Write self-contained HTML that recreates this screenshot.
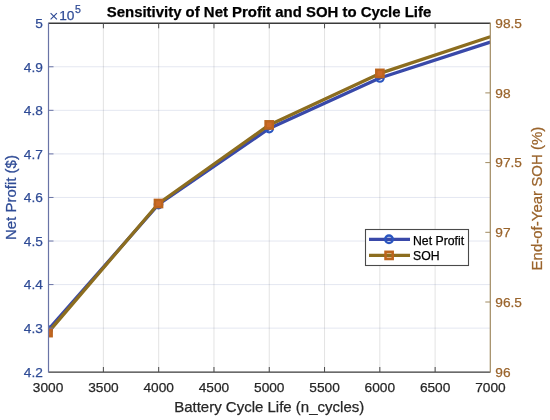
<!DOCTYPE html>
<html><head><meta charset="utf-8"><style>
html,body{margin:0;padding:0;background:#fff;width:550px;height:420px;overflow:hidden}
svg{position:absolute;left:0;top:0;will-change:transform}
svg text{font-family:"Liberation Sans", sans-serif}
</style></head><body>
<svg width="550" height="420" viewBox="0 0 550 420">
<defs><clipPath id="ax"><rect x="48.5" y="23.3" width="441.8" height="348.7"/></clipPath></defs>
<line x1="103.39" y1="23.3" x2="103.39" y2="372.0" stroke="#262626" stroke-opacity="0.13" stroke-width="1"/>
<line x1="158.68" y1="23.3" x2="158.68" y2="372.0" stroke="#262626" stroke-opacity="0.13" stroke-width="1"/>
<line x1="213.97" y1="23.3" x2="213.97" y2="372.0" stroke="#262626" stroke-opacity="0.13" stroke-width="1"/>
<line x1="269.26" y1="23.3" x2="269.26" y2="372.0" stroke="#262626" stroke-opacity="0.13" stroke-width="1"/>
<line x1="324.55" y1="23.3" x2="324.55" y2="372.0" stroke="#262626" stroke-opacity="0.13" stroke-width="1"/>
<line x1="379.84" y1="23.3" x2="379.84" y2="372.0" stroke="#262626" stroke-opacity="0.13" stroke-width="1"/>
<line x1="435.13" y1="23.3" x2="435.13" y2="372.0" stroke="#262626" stroke-opacity="0.13" stroke-width="1"/>
<line x1="48.5" y1="328.14" x2="490.3" y2="328.14" stroke="#2e4791" stroke-opacity="0.13" stroke-width="1"/>
<line x1="48.5" y1="284.58" x2="490.3" y2="284.58" stroke="#2e4791" stroke-opacity="0.13" stroke-width="1"/>
<line x1="48.5" y1="241.02" x2="490.3" y2="241.02" stroke="#2e4791" stroke-opacity="0.13" stroke-width="1"/>
<line x1="48.5" y1="197.46" x2="490.3" y2="197.46" stroke="#2e4791" stroke-opacity="0.13" stroke-width="1"/>
<line x1="48.5" y1="153.90" x2="490.3" y2="153.90" stroke="#2e4791" stroke-opacity="0.13" stroke-width="1"/>
<line x1="48.5" y1="110.34" x2="490.3" y2="110.34" stroke="#2e4791" stroke-opacity="0.13" stroke-width="1"/>
<line x1="48.5" y1="66.78" x2="490.3" y2="66.78" stroke="#2e4791" stroke-opacity="0.13" stroke-width="1"/>
<polyline points="48.05,330.00 158.50,204.50 269.20,128.50 379.90,78.00 490.30,42.10" fill="none" stroke="#3949a9" stroke-width="3.3" stroke-linejoin="round" clip-path="url(#ax)"/>
<circle cx="48.05" cy="330.00" r="3.8" fill="none" stroke="#2a55c0" stroke-width="2.15" clip-path="url(#ax)"/>
<circle cx="158.50" cy="204.50" r="3.8" fill="none" stroke="#2a55c0" stroke-width="2.15" clip-path="url(#ax)"/>
<circle cx="269.20" cy="128.50" r="3.8" fill="none" stroke="#2a55c0" stroke-width="2.15" clip-path="url(#ax)"/>
<circle cx="379.90" cy="78.00" r="3.8" fill="none" stroke="#2a55c0" stroke-width="2.15" clip-path="url(#ax)"/>
<polyline points="48.05,332.60 158.50,203.50 269.20,124.90 379.90,73.40 490.30,36.80" fill="none" stroke="#8c6d1f" stroke-width="3.3" stroke-linejoin="round" clip-path="url(#ax)"/>
<rect x="44.45" y="329.00" width="7.2" height="7.2" fill="#cc6a28" stroke="#bc641e" stroke-width="2.5" clip-path="url(#ax)"/>
<rect x="154.90" y="199.90" width="7.2" height="7.2" fill="#cc6a28" stroke="#bc641e" stroke-width="2.5" clip-path="url(#ax)"/>
<rect x="265.60" y="121.30" width="7.2" height="7.2" fill="#cc6a28" stroke="#bc641e" stroke-width="2.5" clip-path="url(#ax)"/>
<rect x="376.30" y="69.80" width="7.2" height="7.2" fill="#cc6a28" stroke="#bc641e" stroke-width="2.5" clip-path="url(#ax)"/>
<line x1="48.5" y1="372.1" x2="490.3" y2="372.1" stroke="#3a3a3a" stroke-width="1.4"/>
<line x1="48.5" y1="23.2" x2="490.3" y2="23.2" stroke="#3a3a3a" stroke-width="1.4"/>
<line x1="48.5" y1="22.7" x2="48.5" y2="372.6" stroke="#6a74a6" stroke-width="1.2"/>
<line x1="490.3" y1="22.7" x2="490.3" y2="372.6" stroke="#a08a60" stroke-width="1.2"/>
<line x1="103.39" y1="372.0" x2="103.39" y2="367.0" stroke="#4a4a4a" stroke-width="1"/>
<line x1="103.39" y1="23.3" x2="103.39" y2="28.3" stroke="#4a4a4a" stroke-width="1"/>
<line x1="158.68" y1="372.0" x2="158.68" y2="367.0" stroke="#4a4a4a" stroke-width="1"/>
<line x1="158.68" y1="23.3" x2="158.68" y2="28.3" stroke="#4a4a4a" stroke-width="1"/>
<line x1="213.97" y1="372.0" x2="213.97" y2="367.0" stroke="#4a4a4a" stroke-width="1"/>
<line x1="213.97" y1="23.3" x2="213.97" y2="28.3" stroke="#4a4a4a" stroke-width="1"/>
<line x1="269.26" y1="372.0" x2="269.26" y2="367.0" stroke="#4a4a4a" stroke-width="1"/>
<line x1="269.26" y1="23.3" x2="269.26" y2="28.3" stroke="#4a4a4a" stroke-width="1"/>
<line x1="324.55" y1="372.0" x2="324.55" y2="367.0" stroke="#4a4a4a" stroke-width="1"/>
<line x1="324.55" y1="23.3" x2="324.55" y2="28.3" stroke="#4a4a4a" stroke-width="1"/>
<line x1="379.84" y1="372.0" x2="379.84" y2="367.0" stroke="#4a4a4a" stroke-width="1"/>
<line x1="379.84" y1="23.3" x2="379.84" y2="28.3" stroke="#4a4a4a" stroke-width="1"/>
<line x1="435.13" y1="372.0" x2="435.13" y2="367.0" stroke="#4a4a4a" stroke-width="1"/>
<line x1="435.13" y1="23.3" x2="435.13" y2="28.3" stroke="#4a4a4a" stroke-width="1"/>
<line x1="48.5" y1="328.14" x2="53.5" y2="328.14" stroke="#6a74a6" stroke-width="1"/>
<line x1="48.5" y1="284.58" x2="53.5" y2="284.58" stroke="#6a74a6" stroke-width="1"/>
<line x1="48.5" y1="241.02" x2="53.5" y2="241.02" stroke="#6a74a6" stroke-width="1"/>
<line x1="48.5" y1="197.46" x2="53.5" y2="197.46" stroke="#6a74a6" stroke-width="1"/>
<line x1="48.5" y1="153.90" x2="53.5" y2="153.90" stroke="#6a74a6" stroke-width="1"/>
<line x1="48.5" y1="110.34" x2="53.5" y2="110.34" stroke="#6a74a6" stroke-width="1"/>
<line x1="48.5" y1="66.78" x2="53.5" y2="66.78" stroke="#6a74a6" stroke-width="1"/>
<line x1="490.3" y1="302.00" x2="485.3" y2="302.00" stroke="#a08a60" stroke-width="1"/>
<line x1="490.3" y1="232.30" x2="485.3" y2="232.30" stroke="#a08a60" stroke-width="1"/>
<line x1="490.3" y1="162.60" x2="485.3" y2="162.60" stroke="#a08a60" stroke-width="1"/>
<line x1="490.3" y1="92.90" x2="485.3" y2="92.90" stroke="#a08a60" stroke-width="1"/>
<text x="48.10" y="391.50" text-anchor="middle" font-size="13.7" fill="#262626" stroke="#262626" stroke-width="0.25">3000</text>
<text x="103.39" y="391.50" text-anchor="middle" font-size="13.7" fill="#262626" stroke="#262626" stroke-width="0.25">3500</text>
<text x="158.68" y="391.50" text-anchor="middle" font-size="13.7" fill="#262626" stroke="#262626" stroke-width="0.25">4000</text>
<text x="213.97" y="391.50" text-anchor="middle" font-size="13.7" fill="#262626" stroke="#262626" stroke-width="0.25">4500</text>
<text x="269.26" y="391.50" text-anchor="middle" font-size="13.7" fill="#262626" stroke="#262626" stroke-width="0.25">5000</text>
<text x="324.55" y="391.50" text-anchor="middle" font-size="13.7" fill="#262626" stroke="#262626" stroke-width="0.25">5500</text>
<text x="379.84" y="391.50" text-anchor="middle" font-size="13.7" fill="#262626" stroke="#262626" stroke-width="0.25">6000</text>
<text x="435.13" y="391.50" text-anchor="middle" font-size="13.7" fill="#262626" stroke="#262626" stroke-width="0.25">6500</text>
<text x="490.42" y="391.50" text-anchor="middle" font-size="13.7" fill="#262626" stroke="#262626" stroke-width="0.25">7000</text>
<text x="42.80" y="376.50" text-anchor="end" font-size="13.7" fill="#304c96" stroke="#304c96" stroke-width="0.25">4.2</text>
<text x="42.80" y="332.94" text-anchor="end" font-size="13.7" fill="#304c96" stroke="#304c96" stroke-width="0.25">4.3</text>
<text x="42.80" y="289.38" text-anchor="end" font-size="13.7" fill="#304c96" stroke="#304c96" stroke-width="0.25">4.4</text>
<text x="42.80" y="245.82" text-anchor="end" font-size="13.7" fill="#304c96" stroke="#304c96" stroke-width="0.25">4.5</text>
<text x="42.80" y="202.26" text-anchor="end" font-size="13.7" fill="#304c96" stroke="#304c96" stroke-width="0.25">4.6</text>
<text x="42.80" y="158.70" text-anchor="end" font-size="13.7" fill="#304c96" stroke="#304c96" stroke-width="0.25">4.7</text>
<text x="42.80" y="115.14" text-anchor="end" font-size="13.7" fill="#304c96" stroke="#304c96" stroke-width="0.25">4.8</text>
<text x="42.80" y="71.58" text-anchor="end" font-size="13.7" fill="#304c96" stroke="#304c96" stroke-width="0.25">4.9</text>
<text x="42.80" y="28.02" text-anchor="end" font-size="13.7" fill="#304c96" stroke="#304c96" stroke-width="0.25">5</text>
<text x="495.30" y="376.50" text-anchor="start" font-size="13.7" fill="#9a642c" stroke="#9a642c" stroke-width="0.25">96</text>
<text x="495.30" y="306.80" text-anchor="start" font-size="13.7" fill="#9a642c" stroke="#9a642c" stroke-width="0.25">96.5</text>
<text x="495.30" y="237.10" text-anchor="start" font-size="13.7" fill="#9a642c" stroke="#9a642c" stroke-width="0.25">97</text>
<text x="495.30" y="167.40" text-anchor="start" font-size="13.7" fill="#9a642c" stroke="#9a642c" stroke-width="0.25">97.5</text>
<text x="495.30" y="97.70" text-anchor="start" font-size="13.7" fill="#9a642c" stroke="#9a642c" stroke-width="0.25">98</text>
<text x="495.30" y="28.00" text-anchor="start" font-size="13.7" fill="#9a642c" stroke="#9a642c" stroke-width="0.25">98.5</text>
<path d="M50.6 13.2 L56.9 19.3 M56.9 13.2 L50.6 19.3" stroke="#304c96" stroke-width="1.15" fill="none"/>
<text x="59.20" y="19.60" text-anchor="start" font-size="13.7" fill="#304c96" stroke="#304c96" stroke-width="0.25">10</text>
<text x="74.90" y="12.50" text-anchor="start" font-size="10.6" fill="#304c96" stroke="#304c96" stroke-width="0.25">5</text>
<text x="269.20" y="411.70" text-anchor="middle" font-size="15" fill="#262626" stroke="#262626" stroke-width="0.25">Battery Cycle Life (n_cycles)</text>
<text x="0.00" y="0.00" text-anchor="middle" font-size="15" fill="#304c96" stroke="#304c96" stroke-width="0.25" transform="translate(15.9,197.6) rotate(-90)">Net Profit ($)</text>
<text x="0.00" y="0.00" text-anchor="middle" font-size="15" fill="#9a642c" stroke="#9a642c" stroke-width="0.25" transform="translate(541.6,198.6) rotate(-90)">End-of-Year SOH (%)</text>
<text x="269" y="17.4" text-anchor="middle" font-size="14.95" font-weight="bold" fill="#000" stroke="#000" stroke-width="0.25">Sensitivity of Net Profit and SOH to Cycle Life</text>
<rect x="365.5" y="229.5" width="103" height="36" fill="#fff" stroke="#4a4a4a" stroke-width="1.1"/>
<circle cx="389.0" cy="239.3" r="3.8" fill="#cfdcf2" stroke="none"/>
<line x1="369" y1="239.3" x2="410" y2="239.3" stroke="#3949a9" stroke-width="3.3"/>
<circle cx="389.0" cy="239.3" r="3.8" fill="none" stroke="#2a55c0" stroke-width="2.3"/>
<rect x="385.5" y="251.8" width="7.2" height="7.2" fill="#f0c8a0" stroke="none"/>
<line x1="369" y1="255.4" x2="410" y2="255.4" stroke="#8c6d1f" stroke-width="3.3"/>
<rect x="385.5" y="251.8" width="7.2" height="7.2" fill="none" stroke="#bc641e" stroke-width="2.5"/>
<text x="413.00" y="244.50" text-anchor="start" font-size="12.25" fill="#000" stroke="#000" stroke-width="0.25">Net Profit</text>
<text x="413.00" y="260.40" text-anchor="start" font-size="12.25" fill="#000" stroke="#000" stroke-width="0.25">SOH</text>
</svg>
</body></html>
